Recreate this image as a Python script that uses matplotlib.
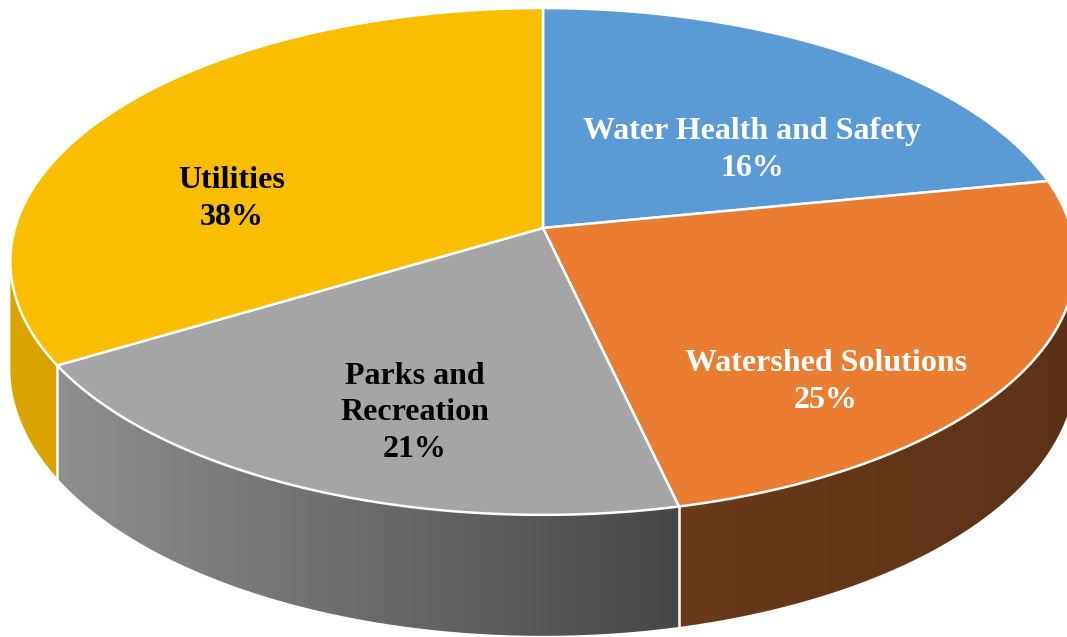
import numpy as np
import matplotlib.pyplot as plt
from matplotlib.patches import Polygon
from matplotlib.colors import LinearSegmentedColormap

# data
categories = ["Water Health and Safety", "Watershed Solutions", "Parks and\nRecreation", "Utilities"]
pct_labels = ["16%", "25%", "21%", "38%"]
# slice sizes as they are drawn in the source chart
# (the printed percentages there do not match the drawn geometry)
shares = [21.9, 24.5, 20.0, 33.6]

# styling
top_colors = ["#5B9BD5", "#EA7D32", "#A5A5A5", "#F9BE00"]
side_colors = [("#3f6f9c", "#3f6f9c"), ("#6a3a19", "#5c3217"),
               ("#8f8f8f", "#474747"), ("#dca500", "#d9a200")]
text_colors = ["white", "white", "black", "black"]
label_xy = [(752, 150), (826, 382), (415, 413), (232, 199)]

W, H = 1067, 637
# pie geometry in pixels: centre, radii, perspective factor, rim height
cx, cy, a, b, k, h = 543, 228, 528, 249, 0.132, 105


def project(theta, drop=0.0):
    """Point on the rim (angle clockwise from the back) -> pixel coords."""
    X = np.sin(theta)
    Y = np.cos(theta)
    s = 1.0 / (1.0 + k * Y)
    return cx + a * X * s, cy - b * Y * s + h * drop * s


fig = plt.figure(figsize=(W / 100, H / 100), dpi=100)
ax = fig.add_axes([0, 0, 1, 1])

fractions = np.array(shares) / np.sum(shares)
edges = np.concatenate([[0], np.cumsum(fractions)]) * 2 * np.pi

# visible part of the rim: between rightmost and leftmost point of the top face
tt = np.linspace(0, 2 * np.pi, 3601)
xx, _ = project(tt)
vis_lo, vis_hi = tt[np.argmax(xx)], tt[np.argmin(xx)]

# rim (side walls)
for i in range(len(shares)):
    t0, t1 = max(edges[i], vis_lo), min(edges[i + 1], vis_hi)
    if t1 <= t0:
        continue
    t = np.linspace(t0, t1, 200)
    xt, yt = project(t)
    xb, yb = project(t, 1.0)
    verts = np.column_stack([np.concatenate([xt, xb[::-1]]),
                             np.concatenate([yt, yb[::-1]])])
    poly = Polygon(verts, closed=True, facecolor="none", edgecolor="none")
    ax.add_patch(poly)
    cmap = LinearSegmentedColormap.from_list("side%d" % i, side_colors[i])
    grad = np.linspace(0, 1, 256).reshape(1, -1)
    im = ax.imshow(grad, cmap=cmap, aspect="auto", zorder=1,
                   extent=[verts[:, 0].min(), verts[:, 0].max(),
                           verts[:, 1].max(), verts[:, 1].min()])
    im.set_clip_path(poly)

# white seams on the rim where slices meet
for e in edges[1:-1]:
    if vis_lo < e < vis_hi:
        x0, y0 = project(e)
        x1, y1 = project(e, 1.0)
        ax.plot([x0, x1], [y0, y1], color="white", lw=1.8, zorder=2)

# top faces
for i in range(len(shares)):
    t = np.linspace(edges[i], edges[i + 1], 200)
    xt, yt = project(t)
    verts = np.column_stack([np.concatenate([[cx], xt]), np.concatenate([[cy], yt])])
    ax.add_patch(Polygon(verts, closed=True, facecolor=top_colors[i],
                         edgecolor="white", lw=1.8, zorder=3))

# labels
for i in range(len(shares)):
    ax.text(label_xy[i][0], label_xy[i][1], f"{categories[i]}\n{pct_labels[i]}",
            ha="center", va="center", fontsize=23, fontweight="bold",
            family="Liberation Serif", color=text_colors[i],
            linespacing=1.36, zorder=4)

ax.set_xlim(0, W)
ax.set_ylim(H, 0)
ax.axis("off")
fig.savefig("out.png", dpi=100)
